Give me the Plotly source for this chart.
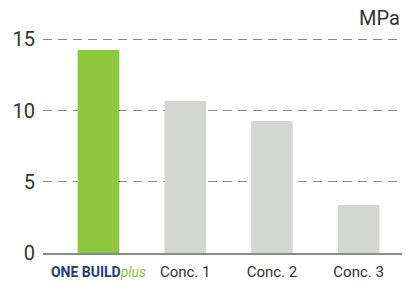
import plotly.graph_objects as go

categories = ["ONE BUILD plus", "Conc. 1", "Conc. 2", "Conc. 3"]
tick_labels = [
    "<span style='color:#1c3f73;font-size:14px'><b>ONE BUILD</b></span><span style='color:#8dc63f;font-size:14px'><i>plus</i></span>",
    "Conc. 1", "Conc. 2", "Conc. 3",
]
values = [14.25, 10.67, 9.26, 3.37]
colors = ["#8dc63f", "#d4d6d3", "#d4d6d3", "#d4d6d3"]
y_ticks = [0, 5, 10, 15]

fig = go.Figure(go.Bar(
    x=categories, y=values, marker=dict(color=colors, line=dict(width=0)),
    width=0.48,
))

fig.update_layout(
    template="none",
    width=406, height=286,
    margin=dict(l=43, r=4, t=30, b=33, autoexpand=False),
    paper_bgcolor="white", plot_bgcolor="white",
    showlegend=False,
    font=dict(family="Roboto", color="#333333"),
    xaxis=dict(
        range=[-0.64, 3.5], tickmode="array", tickvals=categories, ticktext=tick_labels,
        showgrid=False, showline=True, linecolor="#8a8a8a", linewidth=1.5,
        ticks="", tickfont=dict(size=15, color="#333333"), ticklabelstandoff=4,
        automargin=False,
    ),
    yaxis=dict(
        range=[0, 15.65], tickmode="array", tickvals=y_ticks, showgrid=True, gridcolor="#8a8a8a",
        griddash="9px,6px", gridwidth=1.3, zeroline=False, showline=False,
        ticks="", tickfont=dict(size=20, color="#333333"), ticklabelstandoff=7,
        automargin=False,
    ),
    annotations=[dict(
        text="MPa", x=1, y=1.054, xref="paper", yref="paper",
        xanchor="right", yanchor="middle", showarrow=False,
        font=dict(size=20, color="#333333"),
    )],
)

fig.write_html(
    "out.html",
    config={"displayModeBar": False},
    post_script="document.body.style.margin='0';document.body.style.overflow='hidden';",
)
